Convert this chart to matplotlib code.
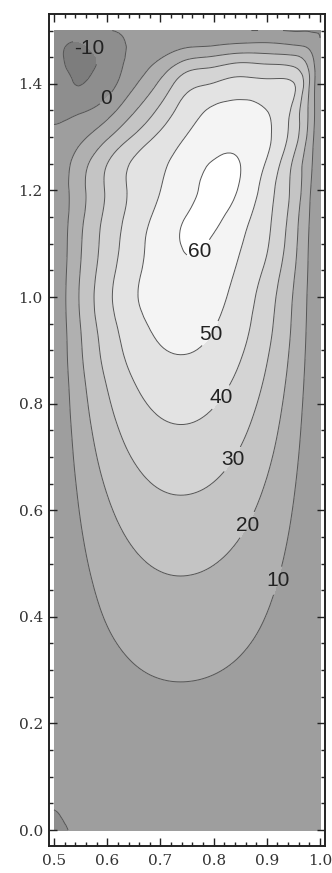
import numpy as np
import matplotlib
matplotlib.use('Agg')
import matplotlib.pyplot as plt
import matplotlib.tri as mtri
from matplotlib.ticker import MultipleLocator, FormatStrFormatter

x_cols = [0.5, 0.52, 0.55, 0.6, 0.65, 0.7, 0.75, 0.8, 0.85, 0.9, 0.95, 0.98, 1.0]
y_rows = [0.0, 0.1, 0.2, 0.25, 0.3, 0.35, 0.4, 0.45, 0.5, 0.55, 0.6, 0.65, 0.7,
          0.75, 0.8, 0.85, 0.9, 0.95, 1.0, 1.05, 1.1, 1.15, 1.2, 1.25, 1.3,
          1.35, 1.4, 1.425, 1.45, 1.475, 1.5]

psi = [
    [-1.0, -0.2, 0.6, 1.0, 1.3, 1.5, 1.5, 1.4, 1.2, 0.9, 0.5, 0.2, 0.1],
    [0.8, 0.9, 1.32, 2.33, 3.03, 3.42, 3.49, 3.30, 2.85, 2.16, 1.20, 0.51, 0.035],
    [0.07, 1.07, 2.49, 4.40, 5.71, 6.44, 6.59, 6.22, 5.38, 4.07, 2.27, 0.96, 0.07],
    [0.09, 1.42, 3.30, 5.83, 7.57, 8.54, 8.73, 8.25, 7.13, 5.39, 3.01, 1.28, 0.09],
    [0.11, 1.78, 4.15, 7.33, 9.52, 10.74, 10.98, 10.37, 8.97, 6.78, 3.78, 1.61, 0.11],
    [0.13, 2.17, 5.05, 8.92, 11.59, 13.08, 13.37, 12.64, 10.92, 8.25, 4.61, 1.96, 0.13],
    [0.16, 2.58, 5.99, 10.59, 13.75, 15.52, 15.87, 14.99, 12.96, 9.79, 5.47, 2.32, 0.16],
    [0.19, 3.00, 6.97, 12.32, 16.00, 18.06, 18.46, 17.45, 15.08, 11.40, 6.36, 2.70, 0.19],
    [0.21, 3.47, 8.07, 14.25, 18.51, 20.89, 21.36, 20.18, 17.44, 13.18, 7.36, 3.12, 0.21],
    [0.25, 3.99, 9.27, 16.38, 21.28, 24.01, 24.55, 23.20, 20.05, 15.15, 8.46, 3.59, 0.25],
    [0.28, 4.54, 10.56, 18.65, 24.22, 27.33, 27.94, 26.40, 22.82, 17.25, 9.63, 4.09, 0.28],
    [0.32, 5.12, 11.91, 21.05, 27.33, 30.84, 31.54, 29.80, 25.75, 19.47, 10.87, 4.61, 0.32],
    [0.35, 5.73, 13.35, 23.58, 30.62, 34.55, 35.33, 33.38, 28.85, 21.81, 12.18, 5.17, 0.35],
    [0.39, 6.35, 14.78, 26.11, 33.91, 38.26, 39.12, 36.97, 31.95, 24.15, 13.48, 5.72, 0.39],
    [0.43, 6.97, 16.21, 28.64, 37.20, 41.97, 42.91, 40.55, 35.05, 26.49, 14.79, 6.28, 0.43],
    [0.47, 7.60, 17.68, 31.24, 40.57, 45.77, 46.81, 44.23, 38.22, 28.89, 16.13, 6.85, 0.47],
    [0.51, 8.20, 19.08, 33.70, 43.77, 49.39, 50.50, 47.72, 41.24, 31.17, 17.41, 7.39, 0.51],
    [0.54, 8.70, 20.24, 35.76, 46.45, 52.41, 53.59, 50.64, 43.77, 33.08, 18.47, 7.84, 0.54],
    [0.56, 9.12, 21.23, 37.50, 48.70, 54.95, 56.19, 53.09, 45.88, 34.68, 19.37, 8.22, 0.56],
    [0.53, 8.6, 20.3, 35.9, 47.4, 54.9, 58.6, 55.6, 48.3, 37.8, 21.3, 8.7, 0.53],
    [0.5, 8.1, 19.3, 34.2, 46.0, 54.8, 60.9, 58.6, 50.7, 41.0, 23.2, 9.1, 0.5],
    [0.5, 7.5, 17.9, 32.7, 44.0, 53.0, 60.4, 61.9, 54.5, 42.5, 24.8, 10.0, 0.5],
    [0.5, 7.3, 17.1, 31.3, 42.4, 50.0, 57.0, 62.6, 59.0, 44.8, 27.0, 11.3, 0.5],
    [0.5, 6.6, 15.9, 30.0, 41.6, 48.2, 55.0, 60.8, 60.0, 48.8, 28.3, 13.1, 0.5],
    [0.5, 3.2, 7.7, 18.75, 31.25, 42.5, 50.5, 55.5, 57.5, 52.0, 35.0, 16.2, 0.3],
    [-1.0, -2.5, -1.2, 5.7, 19.0, 32.4, 45.0, 51.5, 53.5, 50.0, 37.0, 18.0, 0.3],
    [-3, -7, -10.3, -4, 8.5, 22.0, 36.6, 40.5, 43.4, 42.5, 40.5, 20.0, 0.3],
    [-3, -9, -12, -6, 5, 16.0, 29.1, 32.5, 36.3, 35.0, 33.0, 19.0, 0.3],
    [-3, -10.5, -13, -7, 3, 9.3, 17.7, 21.0, 24.4, 23.5, 22.0, 14.0, 0.3],
    [-2.5, -9, -10.5, -4, 1.5, 4.5, 7.5, 8.5, 10.5, 11.0, 9.0, 6.5, 0.3],
    [-2, -3, -4, -0.3, 0.3, 0.3, 0.3, 0.3, 0.3, 0.2, -0.5, -0.5, -0.3],
]

niveaux = [-10, 0, 10, 20, 30, 40, 50, 60]
gris = ['#7d7d7d', '#8e8e8e', '#9e9e9e', '#b0b0b0', '#c4c4c4',
        '#d4d4d4', '#e3e3e3', '#f4f4f4', '#ffffff']

# position des étiquettes des isolignes
pos_labels = [(0.562, 1.462), (0.598, 1.373), (0.777, 1.083), (0.793, 0.932),
              (0.812, 0.813), (0.833, 0.697), (0.864, 0.572), (0.905, 0.472)]

X, Y = np.meshgrid(x_cols, y_rows)
Z = np.array(psi, dtype=float)
ny, nx = Z.shape
triangles = []
for j in range(ny - 1):
    for i in range(nx - 1):
        a = j * nx + i
        triangles.append([a, a + 1, a + nx + 1])
        triangles.append([a, a + nx + 1, a + nx])
tri = mtri.Triangulation(X.ravel(), Y.ravel(), triangles)
interp = mtri.CubicTriInterpolator(tri, Z.ravel(), kind='min_E')
tri_f, z_f = mtri.UniformTriRefiner(tri).refine_field(Z.ravel(), triinterpolator=interp, subdiv=3)

fig = plt.figure(figsize=(3.32, 8.73), dpi=100)
ax = fig.add_axes([49 / 332, 27 / 873, 276 / 332, 832 / 873])

ax.tricontourf(tri_f, z_f, levels=[-100] + niveaux + [100], colors=gris)
cs = ax.tricontour(tri_f, z_f, levels=niveaux, colors='#555555', linewidths=0.7,
                   linestyles='solid')
labels = ax.clabel(cs, levels=niveaux, manual=pos_labels, inline=True,
                   inline_spacing=2, fmt='%d', fontsize=15, colors='#222222')
for t in labels:
    t.set_rotation(0)
    t.set_family('Liberation Sans')

ax.set_xlim(0.4905, 1.0093)
ax.set_ylim(-0.03, 1.531)

ax.xaxis.set_major_locator(MultipleLocator(0.1))
ax.xaxis.set_minor_locator(MultipleLocator(0.02))
ax.yaxis.set_major_locator(MultipleLocator(0.2))
ax.yaxis.set_minor_locator(MultipleLocator(0.05))
ax.xaxis.set_major_formatter(FormatStrFormatter('%.1f'))
ax.yaxis.set_major_formatter(FormatStrFormatter('%.1f'))

ax.tick_params(which='both', direction='in', top=True, right=True, width=1.0, color='#222222')
ax.tick_params(which='major', length=5.5)
ax.tick_params(which='minor', length=3)
ax.tick_params(axis='x', pad=5.5)
ax.tick_params(axis='y', pad=4.5)
for lab in ax.get_xticklabels() + ax.get_yticklabels():
    lab.set_family('DejaVu Serif')
    lab.set_fontsize(11)
    lab.set_color('#333333')
for sp in ax.spines.values():
    sp.set_linewidth(1.4)
    sp.set_color('#222222')

plt.savefig('out.png', dpi=100)
